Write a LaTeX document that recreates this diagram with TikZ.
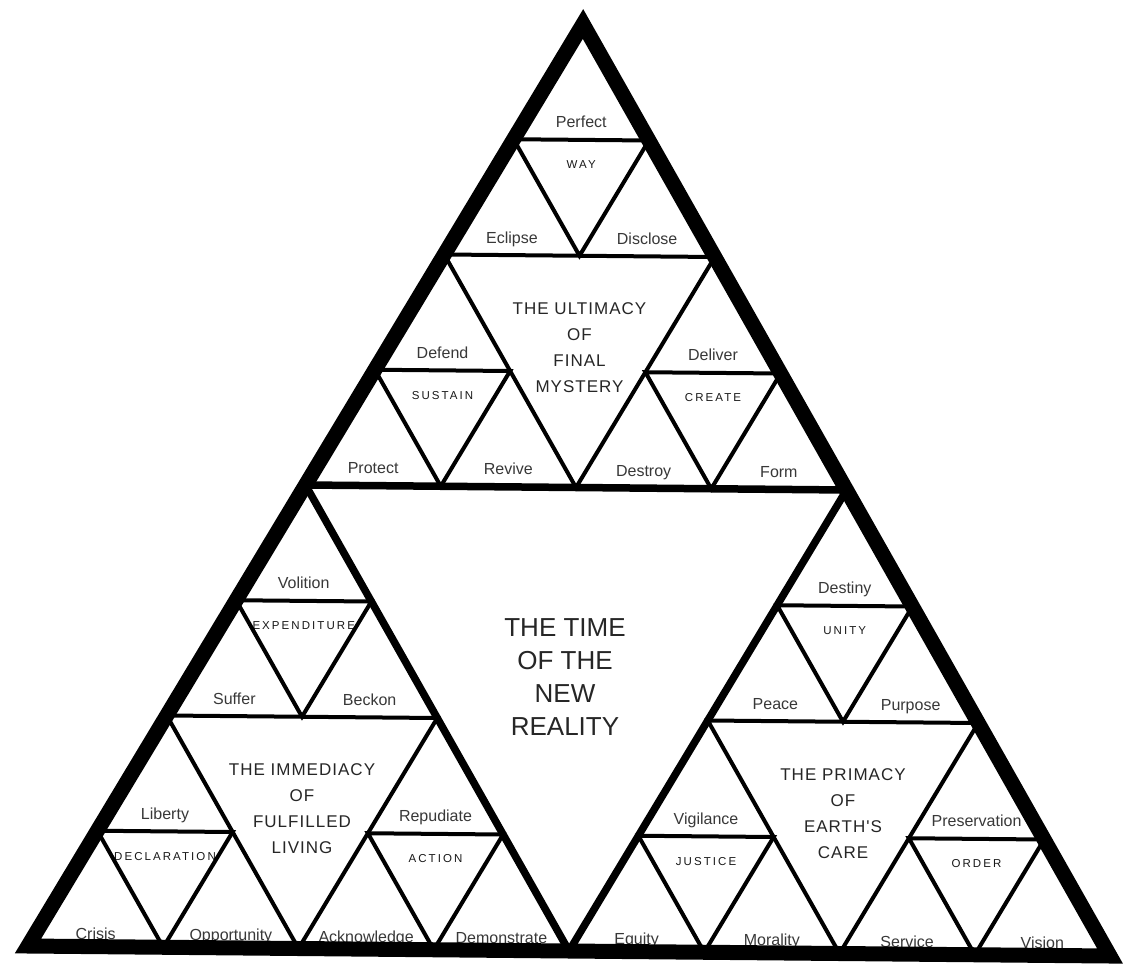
\documentclass[tikz,border=0pt]{standalone}
\usepackage{fontspec}
\setmainfont{Liberation Sans}
\newfontfamily\capsfont[LetterSpace=18]{Liberation Sans}
\newfontfamily\titlefont[LetterSpace=6]{Liberation Sans}
\usetikzlibrary{calc}
\tikzset{
  wordlbl/.style={font=\fontsize{16}{19}\selectfont, text=black!78, anchor=base, inner sep=0pt},
  capslbl/.style={font=\capsfont\fontsize{11.5}{13}\selectfont, text=black!90, anchor=base, inner sep=0pt, yshift=-29pt},
  titlelbl/.style={font=\titlefont\fontsize{17}{26}\selectfont, text=black!85, align=center, anchor=center, inner sep=0pt, yshift=-92pt},
  biglbl/.style={font=\fontsize{26}{33}\selectfont, text=black!85, align=center, anchor=center, inner sep=0pt},
  thinline/.style={line width=4pt, line join=miter},
  midline/.style={line width=7.5pt, line join=miter},
  outerline/.style={line width=15pt, line join=miter}
}
% #1,#2 origin; #3 top word; #4 centre caps; #5 bottom-left word; #6 bottom-right word; #7 yshift of bottom words
\newcommand\subtri[7]{%
  \pgfmathtruncatemacro\sA{#1+1}%
  \pgfmathtruncatemacro\sB{#1+2}%
  \pgfmathtruncatemacro\sC{#2+1}%
  \node[wordlbl, yshift=12pt] (top-#1-#2) at ($(p#1-\sC)!0.5!(p\sA-\sC)$) {#3};
  \node[capslbl] (mid-#1-#2) at ($(p#1-\sC)!0.5!(p\sA-\sC)$) {#4};
  \node[wordlbl, yshift=#7] (bl-#1-#2) at ($(p#1-#2)!0.5!(p\sA-#2)$) {#5};
  \node[wordlbl, yshift=#7] (br-#1-#2) at ($(p\sA-#2)!0.5!(p\sB-#2)$) {#6};
}
\begin{document}
\begin{tikzpicture}[x=1pt,y=-1pt]
\fill[white] (0,0) rectangle (1123,973);
\useasboundingbox (0,0) rectangle (1123,973);

% lattice points
\foreach \a in {0,...,8}{
  \foreach \b in {0,...,8}{
    \pgfmathsetmacro\px{28+135.25*\a+69.375*\b}
    \pgfmathsetmacro\py{946+1.25*\a-115.25*\b}
    \coordinate (p\a-\b) at (\px,\py);
  }
}

% labels
\subtri{0}{6}{Perfect}{WAY}{Eclipse}{Disclose}{12pt}
\subtri{0}{4}{Defend}{SUSTAIN}{Protect}{Revive}{12pt}
\subtri{2}{4}{Deliver}{CREATE}{Destroy}{Form}{12pt}
\subtri{0}{2}{Volition}{EXPENDITURE}{Suffer}{Beckon}{12pt}
\subtri{0}{0}{Liberty}{DECLARATION}{Crisis}{Opportunity}{7pt}
\subtri{2}{0}{Repudiate}{ACTION}{Acknowledge}{Demonstrate}{7pt}
\subtri{4}{2}{Destiny}{UNITY}{Peace}{Purpose}{12pt}
\subtri{4}{0}{Vigilance}{JUSTICE}{Equity}{Morality}{7pt}
\subtri{6}{0}{Preservation}{ORDER}{Service}{Vision}{7pt}

\node[titlelbl] (ultimacy) at ($(p0-6)!0.5!(p2-6)$) {THE ULTIMACY\\OF\\FINAL\\MYSTERY};
\node[titlelbl] (immediacy) at ($(p0-2)!0.5!(p2-2)$) {THE IMMEDIACY\\OF\\FULFILLED\\LIVING};
\node[titlelbl] (primacy) at ($(p4-2)!0.5!(p6-2)$) {THE PRIMACY\\OF\\EARTH'S\\CARE};
\node[biglbl, xshift=-11pt, yshift=-190pt] (newreality) at ($(p0-4)!0.5!(p4-4)$) {THE TIME\\OF THE\\NEW\\REALITY};

% level-3 inverted triangles
\foreach \ox/\oy in {0/0,2/0,0/2,4/0,6/0,4/2,0/4,2/4,0/6}{
  \pgfmathtruncatemacro\xa{\ox+1}
  \pgfmathtruncatemacro\ya{\oy+1}
  \draw[thinline] (p\xa-\oy) -- (p\ox-\ya) -- (p\xa-\ya) -- cycle;
}
% level-2 inverted triangles
\draw[thinline] (p2-0) -- (p0-2) -- (p2-2) -- cycle;
\draw[thinline] (p6-0) -- (p4-2) -- (p6-2) -- cycle;
\draw[thinline] (p2-4) -- (p0-6) -- (p2-6) -- cycle;
% level-1 inverted triangle
\draw[midline] (p4-0) -- (p0-4) -- (p4-4) -- cycle;
% outer triangle
\draw[outerline] (p0-0) -- (p8-0) -- (p0-8) -- cycle;
\end{tikzpicture}
\end{document}
